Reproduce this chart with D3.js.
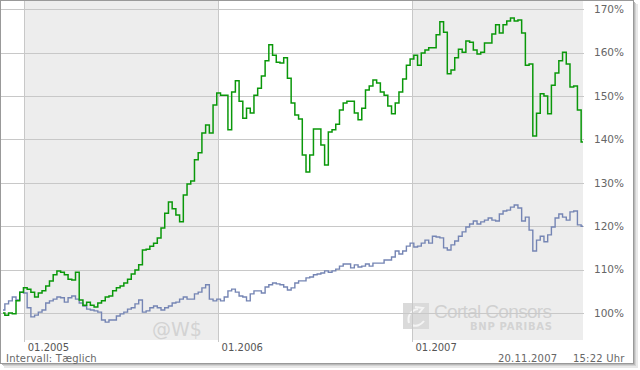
<!DOCTYPE html>
<html>
<head>
<meta charset="utf-8">
<script src="https://d3js.org/d3.v7.min.js"></script>
<style>
  body { margin: 0; background: #fff; }
  svg { display: block; }
  text { font-family: "DejaVu Sans", Verdana, sans-serif; }
</style>
</head>
<body>
<svg width="640" height="370"></svg>
<script>
// weekly closes, in % of start value, from 22.11.2004
var startDate = new Date(2004, 10, 22)
var endDate = new Date(2007, 10, 19)

var fundValues = [
  100.0, 99.5, 100.0, 99.8, 102.8, 104.8, 105.8, 105.5, 104.8, 103.7,
  104.6, 105.1, 106.2, 107.4, 108.8, 109.7, 109.4, 108.8, 107.8, 107.6,
  109.4, 103.0, 101.8, 102.5, 101.8, 101.4, 102.3, 102.8, 103.7, 103.9,
  105.1, 105.8, 106.2, 106.9, 107.8, 109.0, 109.9, 111.1, 114.5, 114.7,
  115.4, 116.1, 117.3, 119.6, 123.0, 125.6, 124.0, 122.6, 121.0, 127.2,
  129.7, 130.4, 135.3, 136.9, 141.5, 143.3, 141.5, 147.9, 150.7, 150.2,
  150.2, 142.2, 150.9, 153.5, 148.8, 144.9, 147.2, 146.1, 150.2, 151.8,
  154.6, 158.1, 161.8, 159.4, 157.8, 157.6, 158.8, 154.1, 148.4, 145.6,
  144.7, 136.4, 132.5, 136.4, 142.4, 142.4, 138.7, 134.1, 141.7, 142.2,
  143.5, 146.8, 148.4, 148.8, 148.8, 146.1, 144.5, 147.2, 151.4, 152.3,
  153.7, 153.0, 150.9, 150.2, 147.7, 145.9, 148.4, 150.9, 153.9, 157.1,
  158.5, 159.4, 157.1, 159.9, 160.6, 161.1, 161.1, 164.1, 167.1, 164.7,
  155.1, 156.0, 158.8, 160.8, 160.1, 162.7, 162.4, 160.6, 159.7, 160.1,
  162.2, 162.2, 164.3, 166.4, 164.5, 166.4, 167.3, 168.0, 167.3, 167.5,
  164.5, 157.1, 157.4, 140.8, 146.0, 150.5, 150.0, 145.9, 152.5, 155.3,
  158.1, 160.1, 157.4, 152.1, 152.3, 146.8, 139.4
]

var indexValues = [
  100.7, 102.1, 102.8, 103.7, 103.0, 104.8, 104.6, 101.2, 99.1, 99.5,
  100.2, 100.7, 102.3, 102.8, 103.2, 103.7, 103.5, 102.5, 103.5, 103.9,
  103.2, 102.3, 101.6, 100.9, 100.7, 100.5, 100.2, 98.4, 97.9, 98.4,
  98.4, 99.3, 99.8, 100.2, 100.9, 101.2, 102.1, 103.0, 100.2, 100.5,
  101.2, 101.6, 101.2, 100.7, 101.2, 101.6, 102.3, 102.5, 103.2, 103.7,
  103.2, 103.2, 104.4, 104.8, 105.8, 106.5, 103.2, 102.8, 103.2, 102.8,
  103.7, 105.1, 105.5, 104.8, 103.9, 103.7, 102.8, 104.4, 105.1, 105.1,
  104.6, 106.0, 106.5, 106.9, 106.7, 106.5, 106.0, 105.3, 105.8, 106.9,
  107.4, 107.4, 108.1, 108.3, 108.8, 109.0, 109.2, 109.7, 109.4, 109.7,
  110.1, 110.8, 111.3, 111.3, 110.4, 111.1, 110.6, 110.8, 111.3, 110.8,
  111.5, 111.5, 111.5, 112.2, 112.2, 112.9, 114.3, 113.6, 114.3, 115.4,
  116.1, 115.2, 115.4, 116.1, 116.8, 116.1, 117.7, 117.5, 117.3, 115.0,
  114.5, 115.7, 116.6, 117.7, 118.7, 119.8, 120.5, 121.2, 120.5, 121.0,
  121.4, 121.9, 121.4, 121.2, 122.8, 123.5, 123.7, 124.4, 124.9, 124.2,
  121.2, 122.1, 119.1, 114.3, 116.8, 117.7, 116.4, 118.0, 119.8, 121.9,
  122.8, 122.1, 121.4, 123.3, 123.5, 120.3, 120.0
]

var yTicks = [100, 110, 120, 130, 140, 150, 160, 170]
var yearTicks = [new Date(2005, 0, 1), new Date(2006, 0, 1), new Date(2007, 0, 1)]
var shadedYears = [[new Date(2005, 0, 1), new Date(2006, 0, 1)], [new Date(2007, 0, 1), endDate]]

var svg = d3.select('svg')

// frame with shadow
svg.append('rect').attr('x', 4).attr('y', 4).attr('width', 634).attr('height', 364).attr('fill', '#e8e8e8')
svg.append('rect').attr('x', 3).attr('y', 3).attr('width', 633).attr('height', 363).attr('fill', '#d2d2d2')
svg.append('rect').attr('x', 2).attr('y', 2).attr('width', 633).attr('height', 363).attr('fill', '#b9b9b9')
svg.append('rect').attr('x', 0.5).attr('y', 0.5).attr('width', 633).attr('height', 363)
  .attr('fill', 'white').attr('stroke', '#999')

var x = d3.scaleTime().domain([startDate, endDate]).range([3, 583])
var y = d3.scaleLinear().domain([100, 170]).range([313, 9.2])

// shaded years
svg.append('g').selectAll('rect')
  .data(shadedYears).enter().append('rect')
  .attr('x', function(d) { return x(d[0]) })
  .attr('width', function(d) { return x(d[1]) - x(d[0]) })
  .attr('y', 1)
  .attr('height', 339)
  .attr('fill', '#ededed')

// watermarks
svg.append('text').attr('x', 152).attr('y', 336).text('@W$')
  .style('font-size', '19px').attr('fill', '#d3d3d3')
var logo = svg.append('g').attr('transform', 'translate(403,303)')
logo.append('rect').attr('width', 26).attr('height', 26).attr('fill', '#dadada')
logo.append('path').attr('d', 'M6,20 C4,13 8,7 15,6 M12,4 L20,5 L16,10 M9,22 C13,24 18,22 21,18')
  .attr('fill', 'none').attr('stroke', '#f4f4f4').attr('stroke-width', 2)
logo.append('text').attr('x', 31).attr('y', 15).text('Cortal Consors')
  .style('font-family', '"Liberation Sans", Arial, sans-serif')
  .style('font-size', '19px').attr('fill', '#d0d0d0').attr('textLength', 118)
logo.append('text').attr('x', 67).attr('y', 27).text('BNP PARIBAS')
  .style('font-size', '10px').style('font-weight', 'bold').attr('fill', '#d3d3d3')
  .attr('textLength', 82)

// horizontal grid + right labels
var yAxis = svg.append('g')
  .attr('transform', 'translate(584,0)')
  .call(d3.axisRight(y).tickValues(yTicks).tickSize(-583).tickPadding(10)
        .tickFormat(function(d) { return d + '%' }))
yAxis.select('.domain').remove()
yAxis.selectAll('line').attr('stroke', '#c8c8c8').attr('shape-rendering', 'crispEdges')
yAxis.selectAll('text').attr('fill', '#666').style('font-size', '10.5px')
  .style('font-family', '"DejaVu Sans", Verdana, sans-serif')

// year lines + labels
var xAxis = svg.append('g')
  .attr('transform', 'translate(0,342)')
  .call(d3.axisBottom(x).tickValues(yearTicks).tickSize(-341).tickPadding(2)
        .tickFormat(d3.timeFormat('%m.%Y')))
xAxis.select('.domain').remove()
xAxis.selectAll('line').attr('stroke', '#c8c8c8').attr('shape-rendering', 'crispEdges')
xAxis.selectAll('text').attr('fill', '#555').attr('text-anchor', 'start').attr('x', 3)
  .style('font-size', '10px').style('font-family', '"DejaVu Sans", Verdana, sans-serif')

// series
svg.append('clipPath').attr('id', 'plot')
  .append('rect').attr('x', 1).attr('y', 1).attr('width', 582).attr('height', 339)

function series(values) {
  return values.map(function(v, i) { return { date: d3.timeDay.offset(startDate, i * 7), value: v } })
}
var line = d3.line()
  .curve(d3.curveStep)
  .x(function(d) { return x(d.date) })
  .y(function(d) { return y(d.value) })

svg.append('path').datum(series(indexValues))
  .attr('clip-path', 'url(#plot)')
  .attr('d', line).attr('fill', 'none').attr('stroke', '#7585b4').attr('stroke-width', 1.4)
svg.append('path').datum(series(fundValues))
  .attr('clip-path', 'url(#plot)')
  .attr('d', line).attr('fill', 'none').attr('stroke', '#0a980a').attr('stroke-width', 1.5)

// footer
var footer = svg.append('g').style('font-size', '10px').attr('fill', '#666').style('letter-spacing', '0.2px')
footer.append('text').attr('x', 6).attr('y', 362).text('Intervall: Tæglich')
footer.append('text').attr('x', 498).attr('y', 362).text('20.11.2007')
footer.append('text').attr('x', 573).attr('y', 362).text('15:22 Uhr')
</script>
</body>
</html>
